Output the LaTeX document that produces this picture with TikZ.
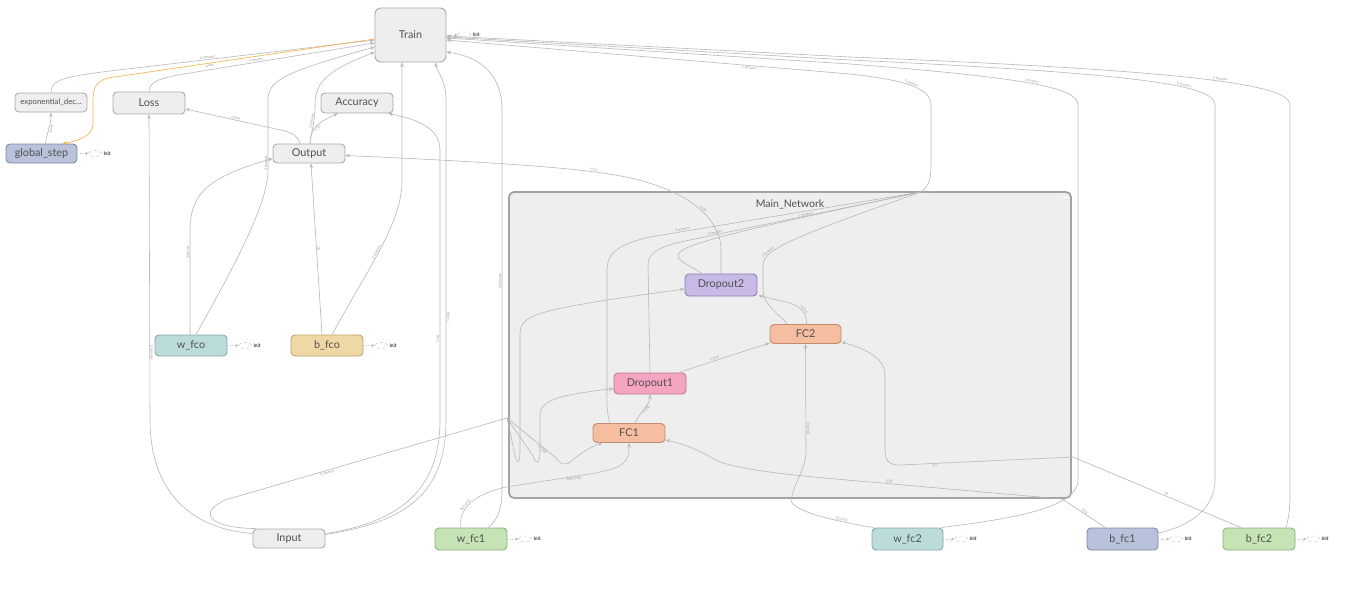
\documentclass[tikz,border=0pt]{standalone}
\usepackage{fontspec}
\setmainfont{Lato}
\usepackage{tikz}
\usetikzlibrary{positioning,calc,arrows.meta,shapes.geometric}

\definecolor{opfill}{HTML}{EEEEEE}
\definecolor{opline}{HTML}{ABABAB}
\definecolor{clusterline}{HTML}{A3A3A3}
\definecolor{edgecol}{HTML}{B8B8B8}
\definecolor{tagcol}{HTML}{9A9A9A}
\definecolor{textcol}{HTML}{505050}
\definecolor{trainflow}{HTML}{F6B245}
\definecolor{bluefill}{HTML}{B8C2DB}
\definecolor{blueline}{HTML}{7D89A6}
\definecolor{tealfill}{HTML}{BCDCDC}
\definecolor{tealline}{HTML}{86A8A8}
\definecolor{tanfill}{HTML}{F0D8A6}
\definecolor{tanline}{HTML}{C2A36E}
\definecolor{greenfill}{HTML}{C5E3B5}
\definecolor{greenline}{HTML}{8DB27C}
\definecolor{lilacfill}{HTML}{C8B9E6}
\definecolor{lilacline}{HTML}{8C7CB4}
\definecolor{pinkfill}{HTML}{F5A4C1}
\definecolor{pinkline}{HTML}{C07590}
\definecolor{fcfill}{HTML}{F6BEA1}
\definecolor{fcline}{HTML}{C58B6E}

\begin{document}
\begin{tikzpicture}[x=1pt, y=-1pt,
    op/.style = {draw=opline, fill=opfill, rounded corners=4pt, line width=0.9pt,
                 minimum width=72pt, minimum height=20pt, inner sep=0pt,
                 text=textcol, font=\fontsize{10.8}{12}\selectfont},
    varblue/.style  = {draw=blueline, fill=bluefill},
    varteal/.style  = {draw=tealline, fill=tealfill},
    vartan/.style   = {draw=tanline, fill=tanfill},
    vargreen/.style = {draw=greenline, fill=greenfill},
    droplilac/.style = {draw=lilacline, fill=lilacfill},
    droppink/.style  = {draw=pinkline, fill=pinkfill},
    fclayer/.style   = {draw=fcline, fill=fcfill},
    cluster/.style = {draw=clusterline, fill=opfill, line width=1.8pt, rounded corners=5pt,
                      minimum width=562pt, minimum height=306pt, inner sep=0pt},
    link/.style = {draw=edgecol, line width=0.6pt, -{Stealth[length=4.5pt,width=3.6pt]}},
    wire/.style = {draw=edgecol, line width=0.6pt},
    tag/.style  = {font=\fontsize{3.6}{4}\selectfont, text=tagcol, sloped, inner sep=0.6pt},
    initbub/.style  = {ellipse, draw=edgecol, dashed, line width=0.4pt,
                       minimum width=13pt, minimum height=6pt, inner sep=0pt},
    inittxt/.style  = {font=\fontsize{5}{6}\selectfont, inner sep=0pt},
    initlink/.style = {draw=edgecol, dotted, line width=0.5pt, -{Stealth[length=3pt,width=3pt]}}
  ]
  \useasboundingbox (0,0) rectangle (1345,603);
  \fill[white] (0,0) rectangle (1345,603);

  % the network block
  \node[cluster] (main) at (790,345) {};
  \node[text=textcol, font=\fontsize{10.5}{12}\selectfont] (maintitle) at (790,204) {Main\_Network};
  \draw[white, line width=0.8pt] (1062,197) -- (1068,197);

  % top level ops
  \node[op, minimum width=71pt, minimum height=54pt, rounded corners=6pt] (train) at (410.5,35) {Train};
  \node[op, minimum height=19pt, font=\fontsize{7.8}{9}\selectfont] (expdec) at (51,102.5) {exponential\_dec...};
  \node[op, minimum height=22pt] (loss) at (149,103) {Loss};
  \node[op] (acc) at (357,103) {Accuracy};
  \node[op, varblue, minimum width=71pt, minimum height=19pt] (gstep) at (41.5,153.5) {global\_step};
  \node[op, minimum height=19pt] (output) at (309,153.5) {Output};
  \node[op, minimum height=19pt] (input) at (289,538.5) {Input};

  % variables
  \node[op, varteal, minimum height=21pt] (wfco) at (191,345.5) {w\_fco};
  \node[op, vartan, minimum height=21pt] (bfco) at (327,345.5) {b\_fco};
  \node[op, vargreen, minimum height=22pt] (wfc1) at (471,539) {w\_fc1};
  \node[op, varteal, minimum width=71pt, minimum height=22pt] (wfc2) at (907.5,539) {w\_fc2};
  \node[op, varblue, minimum width=71pt, minimum height=22pt] (bfc1) at (1122.5,539) {b\_fc1};
  \node[op, vargreen, minimum height=22pt] (bfc2) at (1259,539) {b\_fc2};

  % inside Main_Network
  \node[op, droplilac, minimum height=22pt] (drop2) at (721,285) {Dropout2};
  \node[op, fclayer, minimum width=71pt, minimum height=19pt] (fc2) at (805.5,334) {FC2};
  \node[op, droppink, minimum height=21pt] (drop1) at (650,383.5) {Dropout1};
  \node[op, fclayer, minimum height=19pt] (fc1) at (629,433) {FC1};

  \coordinate (inlet) at (507,418);
  \coordinate (outlet) at (921,192);

  % Init markers
  \foreach \v in {gstep,wfco,bfco,wfc1,wfc2,bfc1,bfc2,train} {
    \node[initbub, right=11pt of \v.east] (\v-bub) {};
    \node[inittxt, right=1.5pt of \v-bub] (\v-init) {Init};
    \draw[initlink] (\v.east) -- (\v-bub);
  }

  % left side
  \draw[link] (expdec.north) .. controls (51,80) and (62,77) .. (110,71)
    -- ($(train.west)+(0,5)$) node[tag, pos=0.37, above] {2 tensors};
  \draw[link, draw=trainflow] ($(train.west)+(0,4)$) -- (108,78) node[tag, pos=0.62, below] {scalar}
    .. controls (94,82) and (93,90) .. (93,102) -- (93,124)
    .. controls (93,136) and (78,141) .. ($(gstep.north)+(21,0)$);
  \draw[link] ($(gstep.north)+(4,0)$) .. controls (47,132) and (51,125) .. (expdec.south)
    node[tag, midway, below] {scalar};
  \draw[link] (loss.north) .. controls (149,82) and (158,78) .. (190,73)
    -- ($(train.west)+(0,8)$) node[tag, pos=0.36, above] {4 tensors};
  \draw[link] ($(output.north)+(-9,0)$) .. controls (298,136) and (292,133) .. (285,131)
    -- ($(loss.east)+(0,6)$) node[tag, midway, above] {scalar};
  \draw[link] ($(output.north)+(1,0)$) .. controls (311,130) and (314,124) .. ($(acc.south)+(-19,0)$)
    node[tag, midway, below] {?×10};
  \draw[link] ($(output.north)+(1,0)$) .. controls (312,128) and (315,122) .. (315,105)
    node[tag, pos=0.6, above] {2 tensors}
    .. controls (315,80) and (330,70) .. ($(train.west)+(0,17)$);
  \draw[link] ($(wfco.north)+(-1,0)$) -- (190,232) node[tag, pos=0.8, above] {256×10}
    .. controls (190,195) and (205,178) .. ($(output.west)+(0,5)$);
  \draw[link] ($(wfco.north)+(5,0)$) .. controls (232,270) and (268,205) .. (268,170)
    -- (268,100) node[tag, pos=0.1, above] {4 tensors}
    .. controls (268,80) and (285,72) .. ($(train.west)+(0,12)$);
  \draw[link] ($(bfco.north)+(-5,0)$) -- ($(output.south)+(2,0)$) node[tag, midway, above] {10};
  \draw[link] ($(bfco.north)+(5,0)$) .. controls (372,262) and (402,222) .. (402,180)
    node[tag, pos=0.45, above] {2 tensors}
    -- ($(train.south)+(-8.5,0)$);

  % from Input
  \draw[link] ($(input.west)+(0,-5)$) .. controls (180,528) and (150,480) .. (150,420)
    -- (loss.south) node[tag, pos=0.22, above] {2 tensors};
  \draw[link] ($(input.east)+(0,-5)$) .. controls (400,522) and (440,490) .. (440,420)
    -- (440,150) node[tag, pos=0.3, above] {?×10}
    .. controls (440,125) and (410,118) .. ($(acc.south east)+(-5,0)$);
  \draw[link] ($(input.east)+(0,-4)$) .. controls (405,522) and (446,495) .. (446,420)
    -- (446,100) node[tag, pos=0.32, below] {?×784}
    .. controls (446,80) and (437,72) .. ($(train.south)+(25,0)$);
  \draw[wire] ($(input.north west)+(3,0)$) .. controls (212,528) and (196,514) .. (225,500)
    -- (inlet) node[tag, pos=0.36, below] {2 tensors};
  \draw[link] (inlet) -- (515,455) .. controls (517,465) and (520,465) .. (520,450)
    -- (520,335) .. controls (520,315) and (530,310) .. ($(drop2.west)+(0,4)$);
  \draw[link] (inlet) -- (533,456) .. controls (536,465) and (540,465) .. (540,450)
    -- (540,415) .. controls (540,400) and (560,395) .. ($(drop1.west)+(0,5)$);
  \draw[link] (inlet) -- (556,458) node[tag, pos=0.75, below] {?×784}
    .. controls (562,467) and (568,465) .. (575,458)
    .. controls (585,450) and (595,445) .. ($(fc1.south west)+(10,0)$);

  % w_fc1
  \draw[link] ($(wfc1.north)+(-10,0)$) .. controls (458,512) and (470,495) .. (506,487)
    node[tag, pos=0.45, above] {784×256}
    -- (590,474) node[tag, pos=0.8, below] {784×256}
    .. controls (625,468) and (629,462) .. (fc1.south);
  \draw[link] ($(wfc1.north)+(17,0)$) .. controls (498,520) and (502,508) .. (502,490)
    -- (502,110) node[tag, pos=0.55, above] {4 tensors}
    .. controls (502,70) and (475,56) .. ($(train.east)+(0,17)$);

  % inside Main_Network
  \draw[link] ($(fc1.north)+(6,0)$) .. controls (640,412) and (650,405) .. (drop1.south)
    node[tag, midway, below] {?×256};
  \draw[link] ($(drop1.north east)+(-8,0)$) -- ($(fc2.south west)+(0,-1)$)
    node[tag, pos=0.4, above] {?×256};
  \draw[link] ($(fc2.north)+(1,0)$) .. controls (807,312) and (800,307) .. (790,303)
    node[tag, midway, above] {?×256}
    -- ($(drop2.south east)+(1,-1)$);
  \draw[link] (drop2.north) -- (721,250) .. controls (721,225) and (700,200) .. (655,185)
    node[tag, pos=0.55, above] {?×10}
    .. controls (620,172) and (560,165) .. ($(output.east)+(0,2)$)
    node[tag, pos=0.4, above] {?×10};
  \draw[wire] ($(fc1.north)+(-19,0)$) .. controls (606,410) and (607,400) .. (607,390)
    -- (607,270) .. controls (607,255) and (615,245) .. (650,237)
    -- (outlet) node[tag, pos=0.12, above] {4 tensors};
  \draw[wire] (drop1.north) -- (648,265) .. controls (648,252) and (660,246) .. (690,240)
    -- (outlet) node[tag, pos=0.11, above] {2 tensors};
  \draw[wire] ($(drop2.north)+(-19,0)$) .. controls (690,265) and (672,260) .. (680,252)
    .. controls (690,242) and (760,226) .. (outlet) node[tag, pos=0.72, above] {7 tensors};
  \draw[wire] ($(fc2.north)+(-18,0)$) .. controls (780,315) and (763,305) .. (763,290)
    -- (763,265) .. controls (763,250) and (790,238) .. (outlet)
    node[tag, pos=0.25, above] {2 tensors};

  % right side variables
  \draw[link] ($(wfc2.north west)+(2,0)$) .. controls (840,522) and (792,512) .. (791,500)
    node[tag, pos=0.3, above] {256×10}
    .. controls (795,480) and (806,470) .. (806,450)
    -- (fc2.south) node[tag, pos=0.2, above] {256×10};
  \draw[link] ($(bfc1.north)+(-17,0)$) -- (1062,499) node[tag, pos=0.5, above] {256}
    -- (870,482) node[tag, pos=0.9, above] {256}
    .. controls (800,476) and (730,470) .. (712,458)
    .. controls (695,448) and (680,443) .. ($(fc1.east)+(0,7)$);
  \draw[link] ($(bfc2.north)+(-18,0)$) -- (1073,457) node[tag, pos=0.45, above] {10}
    -- (900,465) node[tag, pos=0.8, below] {10}
    .. controls (888,465) and (885,460) .. (885,450)
    -- (885,375) .. controls (885,360) and (870,350) .. ($(fc2.east)+(0,8)$);

  % to Train from the right
  \draw[link] (outlet) .. controls (931,185) and (931,175) .. (931,160)
    -- (931,105) .. controls (931,88) and (905,80) .. (850,74)
    node[tag, pos=0.5, above] {2 tensors}
    -- ($(train.east)+(0,5)$) node[tag, pos=0.25, below] {2 tensors};
  \draw[link] ($(wfc2.north east)+(-2,0)$) .. controls (1000,520) and (1078,510) .. (1078,480)
    -- (1078,105) .. controls (1078,88) and (1030,78) .. (850,64)
    node[tag, pos=0.5, above] {2 tensors}
    -- ($(train.east)+(0,3)$);
  \draw[link] ($(bfc1.east)+(0,-6)$) .. controls (1195,525) and (1215,505) .. (1215,480)
    -- (1215,105) .. controls (1215,86) and (1150,74) .. (850,60)
    node[tag, pos=0.35, above] {2 tensors}
    -- ($(train.east)+(0,2)$);
  \draw[link] ($(bfc2.north)+(27,0)$) .. controls (1288,520) and (1290,512) .. (1290,495)
    -- (1290,105) .. controls (1290,85) and (1200,71) .. (850,57)
    node[tag, pos=0.45, above] {2 tensors}
    -- ($(train.east)+(0,1)$);
\end{tikzpicture}
\end{document}
